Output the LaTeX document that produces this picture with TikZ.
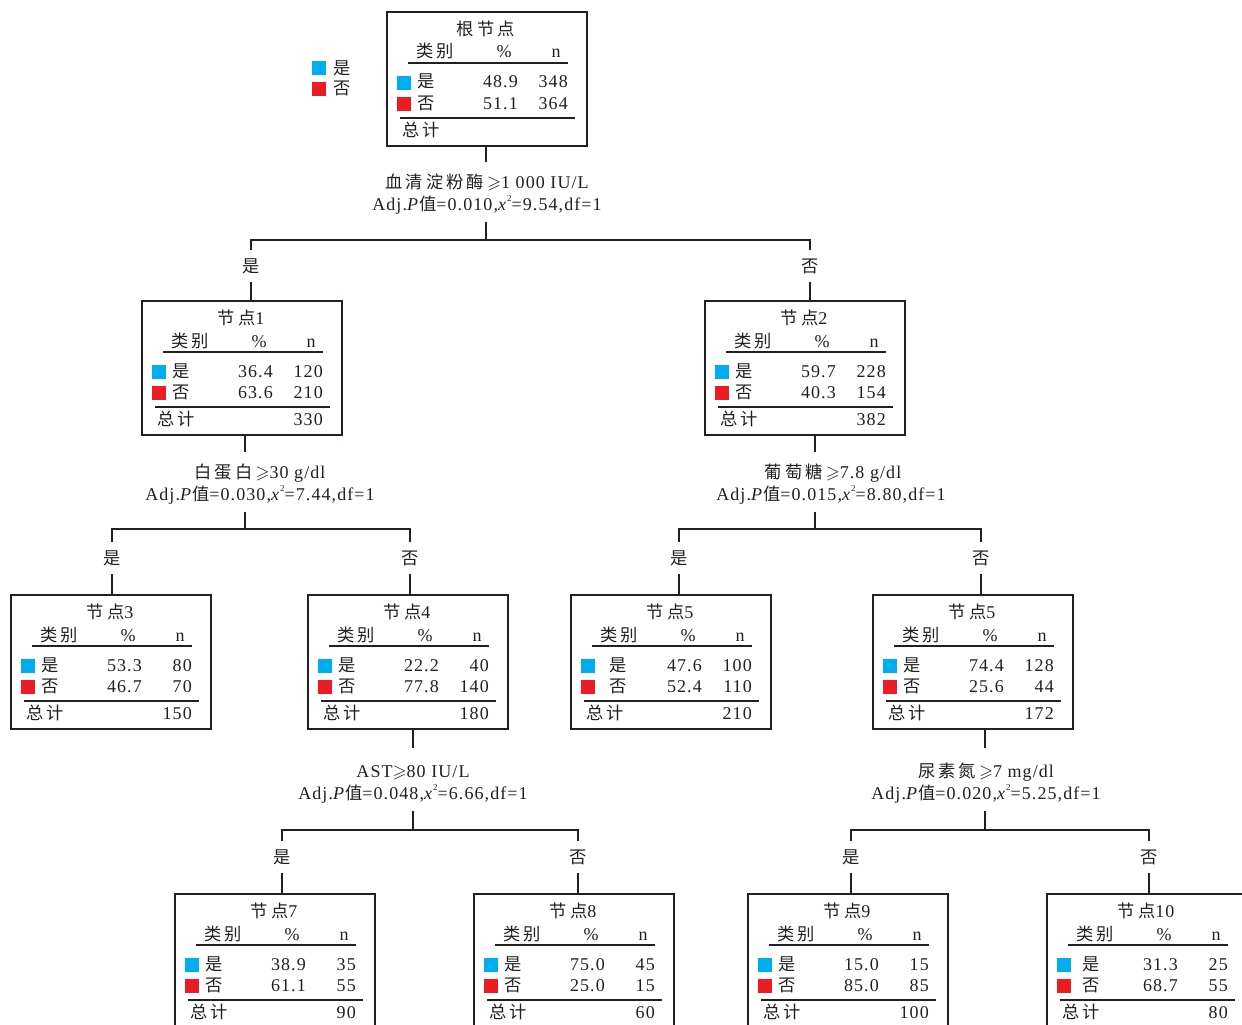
\documentclass[tikz,border=0pt]{standalone}
\usepackage{fontspec}
\usepackage{amssymb}
\setmainfont{Liberation Serif}[LetterSpace=6]
\newfontfamily\cjk{Noto Sans CJK SC}[Scale=0.96,LetterSpace=18]
\definecolor{yescol}{HTML}{00AEEF}
\definecolor{nocol}{HTML}{ED1C24}
\definecolor{ink}{HTML}{231F20}
\newcommand\yx{40}
\newcommand\sq{\raisebox{0.5em}{\fontsize{9}{9}\selectfont 2}}
\newcommand\tbox[9]{%
 \begin{scope}[shift={(#2,#3)}]
  \node[box] (#1) at (0,0) {};
  \node[txt] (#1-t) at (100,24.5) {#4};
  \node[txt] (#1-c) at (49,47) {\cjk 类别};
  \node[txt] (#1-p) at (118,47) {\%};
  \node[txt] (#1-n) at (170,47) {n};
  \draw[rule] (22,52) -- (182,52);
  \fill[yescol] (11,65) rectangle (25,79);
  \fill[nocol] (11,86) rectangle (25,100);
  \node[txt] (#1-y) at (\yx,77) {\cjk 是};
  \node[txt] (#1-o) at (\yx,98) {\cjk 否};
  \node[num] (#1-yp) at (132,77) {#5};
  \node[num] (#1-yn) at (182,77) {#6};
  \node[num] (#1-op) at (132,98) {#7};
  \node[num] (#1-on) at (182,98) {#8};
  \draw[rule] (14,107) -- (189,107);
  \node[txt] (#1-s) at (35,125) {\cjk 总计};
  \node[num] (#1-sv) at (182,125) {#9};
 \end{scope}}
\begin{document}
\begin{tikzpicture}[x=1pt,y=-1pt,
  font=\fontsize{18}{20}\selectfont, text=ink,
  box/.style={draw=ink, line width=2pt, minimum width=200pt, minimum height=134pt, inner sep=0pt, anchor=north west},
  txt/.style={anchor=base, inner sep=0pt},
  num/.style={anchor=base east, inner sep=0pt},
  rule/.style={draw=ink, line width=2.5pt},
  conn/.style={draw=ink, line width=2pt},
  blabel/.style={inner sep=0pt, minimum height=32pt}]
\useasboundingbox (0,0) rectangle (1242,1025);
\clip (0,0) rectangle (1242,1025);
\fill[white] (0,0) rectangle (1242,1025);

% legend
\fill[yescol] (312,61) rectangle (326,75);
\fill[nocol] (312,82) rectangle (326,96);
\node[inner sep=0pt] (lg-y) at (342,68) {\cjk 是};
\node[inner sep=0pt] (lg-n) at (342,88) {\cjk 否};

% boxes
\tbox{root}{386}{11}{\cjk 根节点}{48.9}{348}{51.1}{364}{}
\tbox{node1}{141}{300}{{\cjk 节点}1}{36.4}{120}{63.6}{210}{330}
\tbox{node2}{704}{300}{{\cjk 节点}2}{59.7}{228}{40.3}{154}{382}
\tbox{node3}{10}{594}{{\cjk 节点}3}{53.3}{80}{46.7}{70}{150}
\tbox{node4}{307}{594}{{\cjk 节点}4}{22.2}{40}{77.8}{140}{180}
\renewcommand\yx{48}
\tbox{node5a}{570}{594}{{\cjk 节点}5}{47.6}{100}{52.4}{110}{210}
\renewcommand\yx{40}
\tbox{node5b}{872}{594}{{\cjk 节点}5}{74.4}{128}{25.6}{44}{172}
\tbox{node7}{174}{893}{{\cjk 节点}7}{38.9}{35}{61.1}{55}{90}
\tbox{node8}{473}{893}{{\cjk 节点}8}{75.0}{45}{25.0}{15}{60}
\tbox{node9}{747}{893}{{\cjk 节点}9}{15.0}{15}{85.0}{85}{100}
\renewcommand\yx{45}
\tbox{node10}{1046}{893}{{\cjk 节点}10}{31.3}{25}{68.7}{55}{80}

% condition labels
\node[txt] (c0a) at (487,188) {{\cjk 血清淀粉酶}\,$\geqslant$1 000 IU/L};
\node[txt] (c0b) at (487,210) {Adj.\textit{P}{\cjk 值}=0.010,\textit{x}\sq=9.54,df=1};
\node[txt] (c1a) at (260,478) {{\cjk 白蛋白}\,$\geqslant$30 g/dl};
\node[txt] (c1b) at (260,500) {Adj.\textit{P}{\cjk 值}=0.030,\textit{x}\sq=7.44,df=1};
\node[txt] (c2a) at (833,478) {{\cjk 葡萄糖}\,$\geqslant$7.8 g/dl};
\node[txt] (c2b) at (831,500) {Adj.\textit{P}{\cjk 值}=0.015,\textit{x}\sq=8.80,df=1};
\node[txt] (c4a) at (413,777) {AST$\geqslant$80 IU/L};
\node[txt] (c4b) at (413,799) {Adj.\textit{P}{\cjk 值}=0.048,\textit{x}\sq=6.66,df=1};
\node[txt] (c5a) at (986,777) {{\cjk 尿素氮}\,$\geqslant$7 mg/dl};
\node[txt] (c5b) at (986,799) {Adj.\textit{P}{\cjk 值}=0.020,\textit{x}\sq=5.25,df=1};

% split at root
\coordinate (s0) at (486,162); \coordinate (t0) at (486,222); \coordinate (h0) at (486,240);
\node[blabel] (b0y) at (251,266) {\cjk 是};
\node[blabel] (b0n) at (810,266) {\cjk 否};
\draw[conn] (root.south -| s0) -- (s0);
\draw[conn] (t0) -- (h0);
\draw[conn] (b0y.north) -- (b0y.north |- h0) -- (b0n.north |- h0) -- (b0n.north);
\draw[conn] (b0y.south) -- (b0y.south |- node1.north);
\draw[conn] (b0n.south) -- (b0n.south |- node2.north);

% split at node1
\coordinate (s1) at (245,452); \coordinate (t1) at (245,512); \coordinate (h1) at (245,529);
\node[blabel] (b1y) at (112,558) {\cjk 是};
\node[blabel] (b1n) at (410,558) {\cjk 否};
\draw[conn] (node1.south -| s1) -- (s1);
\draw[conn] (t1) -- (h1);
\draw[conn] (b1y.north) -- (b1y.north |- h1) -- (b1n.north |- h1) -- (b1n.north);
\draw[conn] (b1y.south) -- (b1y.south |- node3.north);
\draw[conn] (b1n.south) -- (b1n.south |- node4.north);

% split at node2
\coordinate (s2) at (815,452); \coordinate (t2) at (815,512); \coordinate (h2) at (815,529);
\node[blabel] (b2y) at (679,558) {\cjk 是};
\node[blabel] (b2n) at (981,558) {\cjk 否};
\draw[conn] (node2.south -| s2) -- (s2);
\draw[conn] (t2) -- (h2);
\draw[conn] (b2y.north) -- (b2y.north |- h2) -- (b2n.north |- h2) -- (b2n.north);
\draw[conn] (b2y.south) -- (b2y.south |- node5a.north);
\draw[conn] (b2n.south) -- (b2n.south |- node5b.north);

% split at node4
\coordinate (s4) at (413,748); \coordinate (t4) at (413,811); \coordinate (h4) at (413,830);
\node[blabel] (b4y) at (282,857) {\cjk 是};
\node[blabel] (b4n) at (578,857) {\cjk 否};
\draw[conn] (node4.south -| s4) -- (s4);
\draw[conn] (t4) -- (h4);
\draw[conn] (b4y.north) -- (b4y.north |- h4) -- (b4n.north |- h4) -- (b4n.north);
\draw[conn] (b4y.south) -- (b4y.south |- node7.north);
\draw[conn] (b4n.south) -- (b4n.south |- node8.north);

% split at node5b
\coordinate (s5) at (985,748); \coordinate (t5) at (985,811); \coordinate (h5) at (985,830);
\node[blabel] (b5y) at (851,857) {\cjk 是};
\node[blabel] (b5n) at (1149,857) {\cjk 否};
\draw[conn] (node5b.south -| s5) -- (s5);
\draw[conn] (t5) -- (h5);
\draw[conn] (b5y.north) -- (b5y.north |- h5) -- (b5n.north |- h5) -- (b5n.north);
\draw[conn] (b5y.south) -- (b5y.south |- node9.north);
\draw[conn] (b5n.south) -- (b5n.south |- node10.north);
\end{tikzpicture}
\end{document}
